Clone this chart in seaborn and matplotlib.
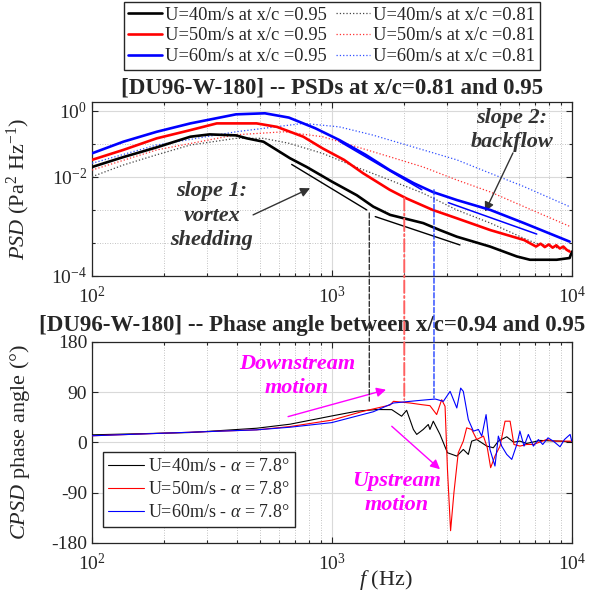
import matplotlib
matplotlib.use('Agg')
import matplotlib.pyplot as plt
import matplotlib.ticker as mticker
from matplotlib.patches import ConnectionPatch
import seaborn as sns

# ---- PSD at x/c = 0.95 (thick lines) ----
f40_095 = [100, 135, 186, 257, 309, 398, 442, 518, 668, 785, 1000, 1268, 1486,
           1746, 2399, 2818, 3311, 4550, 5890, 6680, 8630, 9770, 10000]
psd40_095 = [2.0e-2, 4.0e-2, 7.9e-2, 1.66e-1, 1.95e-1, 1.82e-1, 1.48e-1, 1.17e-1,
             3.7e-2, 2.0e-2, 7.2e-3, 2.8e-3, 1.26e-3, 7.1e-4, 4.0e-4, 2.45e-4,
             1.55e-4, 7.8e-5, 3.9e-5, 3.1e-5, 3.1e-5, 3.5e-5, 5.5e-5]

f50_095 = [100, 135, 186, 257, 331, 485, 589, 759, 912, 1122, 1349, 1738, 2042,
           2630, 3311, 4571, 6310, 7079, 7400, 7700, 8000, 8300, 8600, 8900, 9200,
           9500, 9772]
psd50_095 = [3.3e-2, 6.6e-2, 1.48e-1, 2.63e-1, 4.2e-1, 4.2e-1, 3.3e-1, 1.66e-1,
             7.4e-2, 3.3e-2, 1.29e-2, 4.1e-3, 2.24e-3, 1.0e-3, 5.6e-4, 2.45e-4,
             1.23e-4, 7.8e-5, 9.5e-5, 7.5e-5, 9.0e-5, 7.2e-5, 8.5e-5, 6.8e-5,
             7.8e-5, 6.2e-5, 5.5e-5]

f60_095 = [100, 135, 186, 257, 398, 525, 661, 851, 1072, 1380, 1738, 2188, 2630,
           3311, 4571, 6310, 9772]
psd60_095 = [5.2e-2, 1.17e-1, 2.34e-1, 4.2e-1, 7.9e-1, 8.5e-1, 6.3e-1, 3.0e-1,
             1.32e-1, 4.7e-2, 1.62e-2, 6.5e-3, 3.5e-3, 2.0e-3, 1.0e-3, 4.0e-4,
             1.1e-4]

# ---- PSD at x/c = 0.81 (dotted lines) ----
f40_081 = [100, 135, 186, 257, 398, 518, 661, 912, 1259, 1738, 2399, 3311, 4571,
           6310, 7079, 9772]
psd40_081 = [1.02e-2, 2.3e-2, 4.7e-2, 9.3e-2, 1.48e-1, 1.48e-1, 1.05e-1, 5.2e-2,
             2.0e-2, 8.1e-3, 3.2e-3, 1.0e-3, 4.0e-4, 1.38e-4, 9.8e-5, 6.0e-5]

f50_081 = [100, 186, 398, 631, 912, 1259, 1738, 2399, 3311, 4571, 6310, 9772]
psd50_081 = [1.62e-2, 6.6e-2, 1.9e-1, 2.34e-1, 1.66e-1, 8.3e-2, 4.1e-2, 2.0e-2,
             8.1e-3, 3.5e-3, 1.26e-3, 3.2e-4]

f60_081 = [100, 186, 398, 759, 1072, 1479, 2399, 3311, 4571, 6310, 9772]
psd60_081 = [2.6e-2, 9.3e-2, 2.34e-1, 4.2e-1, 3.3e-1, 1.86e-1, 6.6e-2, 3.3e-2,
             1.29e-2, 5.1e-3, 1.26e-3]

# slope guide lines (start, end)
slope1_f = [[679, 1396], [1514, 3412]]
slope1_psd = [[2.4e-2, 1.0e-3], [6.3e-4, 8.7e-5]]
slope2_f = [[1079, 2366], [3055, 7129]]
slope2_psd = [[1.17e-1, 4.1e-3], [1.66e-3, 1.86e-4]]

# marker frequencies (vertical lines) and their end values in each panel
mark_f = [1430, 2000, 2660]
mark_psd = [8.1e-4, 2.3e-3, 4.1e-3]
mark_phase = [74, 77, 80]

# ---- CPSD phase angle between x/c = 0.94 and 0.95 ----
fph40 = [100, 256, 485, 668, 998, 1268, 1536, 1774, 1950, 2046, 2183, 2254, 2399,
         2518, 2559, 2642, 2818, 3027, 3311, 3524, 3698, 3819, 4009, 4416, 4699,
         4932, 5346, 5702, 6067, 6471, 7362, 8913, 9977]
ph40 = [13.7, 17.8, 25.5, 32.7, 47.5, 56, 59, 58.8, 47, 57.6, 23.3, 14.4, 23.3,
        32.2, 23.3, 38.1, 14.4, -18.4, -24.4, -12.5, -21.4, 2.4, 5.3, -6.5, -9.5,
        2.4, 10.2, 0.6, 2.4, -1.8, 3.6, 2.4, 0.6]

fph50 = [100, 485, 668, 998, 1352, 1745, 1803, 2113, 2366, 2559, 2729, 2864, 2958,
         3027, 3119, 3221, 3357, 3524, 3639, 3819, 4009, 4276, 4436, 4581, 4775,
         5012, 5260, 5521, 5728, 6067, 6471, 6902, 7834, 8356, 9977]
ph50 = [12, 22.6, 28.5, 40, 56, 67, 73.7, 70.7, 67.7, 65.9, 50, 76.6, 64.7, -48.1,
        -158, -89.7, -18.4, 2.4, 26.2, 23.3, 5.3, 11.4, -9.5, -45.2, -24.4, -6.5,
        38.1, 38.1, -3.6, -6.5, -3.6, -3.6, 5.3, 2.4, 2.4]

fph60 = [100, 485, 668, 998, 1486, 1803, 2328, 2692, 2911, 3105, 3311, 3436, 3524,
         3698, 3882, 4074, 4207, 4385, 4550, 4775, 4932, 5093, 5346, 5610, 5888,
         6067, 6310, 6577, 6902, 7244, 7550, 7943, 8356, 8913, 9300, 9817, 9977]
ph60 = [12, 22.6, 27.3, 35.6, 55, 70.7, 75.4, 77.8, 73.7, 91.5, 61.8, 97.4, 91.5,
        41, 20.3, 23.3, 11.4, 49.9, -12.5, -42.2, 11.4, -6.5, -21.4, -30.3, -3.6,
        20.3, -6.5, 14.4, -6.5, 5.3, -3.6, 8.3, 2.4, -7.7, 5.3, 14.4, 2.4]

speeds = ['40', '50', '60']
colors = ['#000000', '#ff0000', '#0000ff']
dot_colors = ['#444444', '#ff3030', '#3050ff']

sns.set_theme(style='ticks')
plt.rcParams['font.family'] = ['Liberation Serif', 'DejaVu Serif']
plt.rcParams['mathtext.fontset'] = 'custom'
plt.rcParams['mathtext.rm'] = 'Liberation Serif'
plt.rcParams['mathtext.it'] = 'Liberation Serif:italic'
plt.rcParams['mathtext.bf'] = 'Liberation Serif:bold'
plt.rcParams['axes.unicode_minus'] = False

ARROW = dict(arrowstyle='-|>', lw=1.0, mutation_scale=14, shrinkA=0, shrinkB=0)


def style_axes(ax):
    ax.set_xscale('log')
    ax.set_xlim(100, 10000)
    ax.tick_params(which='both', direction='in', top=True, right=True,
                   labelsize=14, colors='#262626', width=0.8)
    ax.tick_params(which='major', length=4.5)
    ax.tick_params(which='minor', length=2.5)
    ax.tick_params(axis='x', which='major', pad=7)
    ax.grid(which='major', color='#d9d9d9', lw=0.8, ls='-')
    ax.grid(which='minor', color='#b0b0b0', lw=0.6, ls=(0, (1, 2)))
    for s in ax.spines.values():
        s.set_color('#262626')
        s.set_linewidth(0.9)
    ax.set_axisbelow(True)


fig = plt.figure(figsize=(6.11, 5.94), dpi=100)
ax1 = fig.add_axes([0.1506, 0.5354, 0.7856, 0.2929])
ax2 = fig.add_axes([0.1506, 0.0859, 0.7856, 0.3384])

# ---------------- top panel: PSDs ----------------
style_axes(ax1)
ax1.set_yscale('log')
thick = [(f40_095, psd40_095), (f50_095, psd50_095), (f60_095, psd60_095)]
dotted = [(f40_081, psd40_081), (f50_081, psd50_081), (f60_081, psd60_081)]
handles = []
for (f, p), c in zip(thick, colors):
    sns.lineplot(x=f, y=p, ax=ax1, color=c, linewidth=1.9, sort=False,
                 legend=False, zorder=4)
    handles.append(ax1.lines[-1])
for (f, p), c in zip(dotted, dot_colors):
    sns.lineplot(x=f, y=p, ax=ax1, color=c, linewidth=0.9, linestyle=':',
                 sort=False, legend=False, zorder=3)
    handles.append(ax1.lines[-1])
for f, p in zip(slope1_f, slope1_psd):
    ax1.plot(f, p, color='#000000', lw=1.0, zorder=5)
for f, p in zip(slope2_f, slope2_psd):
    ax1.plot(f, p, color='#0000ff', lw=1.1, zorder=5)

ax1.set_ylim(1e-5, 1.87)
ax1.yaxis.set_major_locator(mticker.FixedLocator([1e-5, 1e-2, 1e0]))
ax1.yaxis.set_major_formatter(mticker.FixedFormatter(
    [r'$10^{-4}$', r'$10^{-2}$', r'$10^{0}$']))
ax1.yaxis.set_minor_locator(mticker.FixedLocator([1e-4, 1e-3, 1e-1]))
ax1.yaxis.set_minor_formatter(mticker.NullFormatter())
ax1.set_ylabel(r'$\it{PSD}$ (Pa$^2$ Hz$^{-1}$)', fontsize=16)
ax1.yaxis.set_label_coords(-0.125, 0.5)
ax1.text(0.5, 1.08, '[DU96-W-180] -- PSDs at x/c=0.81 and 0.95',
         transform=ax1.transAxes, ha='center', va='center', fontsize=16.5,
         fontweight='bold')

txt_kw = dict(ha='center', va='center', fontsize=16, fontweight='bold',
              fontstyle='italic', linespacing=1.3)
ax1.text(316, 6.6e-4, 'slope 1:\nvortex\nshedding', color='#333333', zorder=6,
         **txt_kw)
ax1.annotate('', xy=(810, 4.55e-3), xytext=(469, 7.1e-4),
             arrowprops=dict(color='#333333', **ARROW))
ax1.text(5623, 0.265, 'slope 2:\nbackflow', color='#333333', **txt_kw)
ax1.annotate('', xy=(4340, 8.9e-4), xytext=(5675, 5.35e-2),
             arrowprops=dict(color='#333333', **ARROW))

fig.legend(handles=handles,
           labels=[f'U={s}m/s at x/c =0.95' for s in speeds]
           + [f'U={s}m/s at x/c =0.81' for s in speeds],
           ncol=2, loc='upper center', bbox_to_anchor=(332 / 611, 1 - 2 / 594),
           fontsize=13.3, frameon=True, fancybox=False, edgecolor='#262626',
           framealpha=1, borderpad=0.25, labelspacing=0.2, handlelength=1.8,
           handletextpad=0.2, columnspacing=0.5, borderaxespad=0)

# ---------------- bottom panel: phase ----------------
style_axes(ax2)
ph_handles = []
for (f, p), c in zip([(fph40, ph40), (fph50, ph50), (fph60, ph60)], colors):
    sns.lineplot(x=f, y=p, ax=ax2, color=c, linewidth=0.8, sort=False,
                 legend=False, zorder=4)
    ph_handles.append(ax2.lines[-1])
ax2.set_ylim(-180, 180)
ax2.yaxis.set_major_locator(mticker.FixedLocator([-180, -90, 0, 90, 180]))
ax2.yaxis.set_minor_locator(mticker.NullLocator())
ax2.set_ylabel(r'$\it{CPSD}$ phase angle (°)', fontsize=16)
ax2.yaxis.set_label_coords(-0.125, 0.5)
ax2.set_xlabel(r'$\it{f}$ (Hz)', fontsize=16)
ax2.xaxis.set_label_coords(0.6125, -0.125)
ax2.text(0.458, 1.082, '[DU96-W-180] -- Phase angle between x/c=0.94 and 0.95',
         transform=ax2.transAxes, ha='center', va='center', fontsize=16.5,
         fontweight='bold')
ax2.legend(handles=ph_handles,
           labels=[f'U={s}m/s - $\\alpha$ = 7.8°' for s in speeds],
           loc='lower left', bbox_to_anchor=(0.022, 0.08), borderaxespad=0,
           fontsize=13, frameon=True, fancybox=False, edgecolor='#262626',
           framealpha=1, borderpad=0.3, labelspacing=0.35, handlelength=2.0,
           handletextpad=0.2)

mag = '#ff00ff'
ax2.text(715, 119.4, 'Downstream\nmotion', color=mag, **txt_kw)
ax2.annotate('', xy=(1679, 94.5), xytext=(656, 46.3),
             arrowprops=dict(color=mag, **ARROW))
ax2.text(1866, -90.9, 'Upstream\nmotion', color=mag, **txt_kw)
ax2.annotate('', xy=(2818, -48), xytext=(1774, 29),
             arrowprops=dict(color=mag, **ARROW))

# vertical marker lines spanning both panels
mark_styles = [('#333333', '--', 1.0), ('#ff6060', '-.', 1.4), ('#2040ff', '--', 1.0)]
for f, yp, yph, (c, ls, lw) in zip(mark_f, mark_psd, mark_phase, mark_styles):
    con = ConnectionPatch(xyA=(f, yp), coordsA=ax1.transData,
                          xyB=(f, yph), coordsB=ax2.transData,
                          color=c, linestyle=ls, lw=lw, zorder=10)
    fig.add_artist(con)

fig.savefig('out.png', dpi=100)
